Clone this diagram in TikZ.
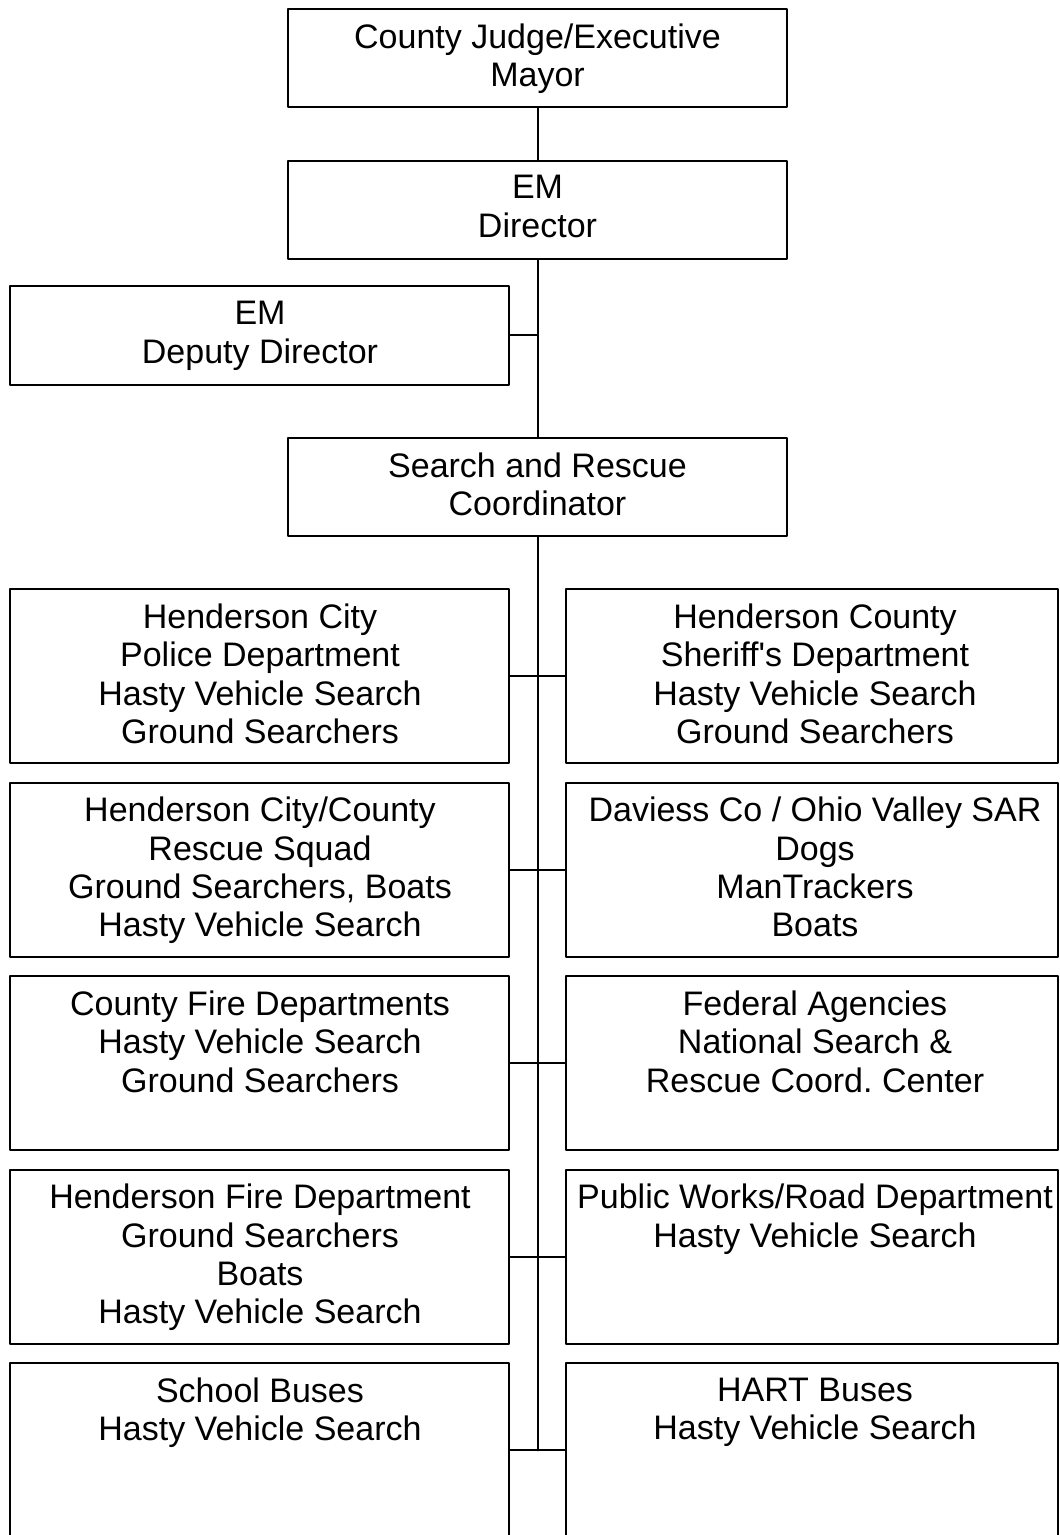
\documentclass[tikz,border=0pt]{standalone}
\usepackage{fontspec}
\setmainfont{Liberation Sans}
\usepackage{tikz}

\begin{document}
\begin{tikzpicture}[line cap=round,line join=round,x=0.5pt,y=-0.5pt,
		every path/.style={line width=1pt},
		topbox/.style={draw,inner sep=0pt,minimum width=249.5pt,minimum height=49pt},
		leftbox/.style={draw,inner sep=0pt,minimum width=249.5pt,minimum height=87pt},
		rightbox/.style={draw,inner sep=0pt,minimum width=246pt,minimum height=87pt},
		txt/.style={anchor=north,align=center,inner sep=0pt,font=\fontsize{17}{19.15}\selectfont}]
		\useasboundingbox (0,0) rectangle (1059,1535);
		
		% upper chain
		\node[topbox] (judge) at (537.5,58.3) {};
		\node[topbox] (emdir) at (537.5,210) {};
		\node[topbox] (emdep) at (259.5,335.5) {};
		\node[topbox] (sarc) at (537.5,487) {};
		
		\node[txt] (judgetxt) at (537.5,22.5) {County Judge/Executive\\Mayor};
		\node[txt] (emdirtxt) at (537.5,174.5) {EM\\Director};
		\node[txt] (emdeptxt) at (260,300.5) {EM\\Deputy Director};
		\node[txt] (sarctxt) at (537.5,451.5) {Search and Rescue\\Coordinator};
		
		% left column
		\node[leftbox] (hcpd) at (259.5,676.3) {};
		\node[leftbox] (hres) at (259.5,869.8) {};
		\node[leftbox] (cfd) at (259.5,1063.3) {};
		\node[leftbox] (hfd) at (259.5,1256.8) {};
		\node[leftbox] (sbus) at (259.5,1450.3) {};
		
		\node[txt] (hcpdtxt) at (260,602.8) {Henderson City\\Police Department\\Hasty Vehicle Search\\Ground Searchers};
		\node[txt] (hrestxt) at (260,796.3) {Henderson City/County\\Rescue Squad\\Ground Searchers, Boats\\Hasty Vehicle Search};
		\node[txt] (cfdtxt) at (260,989.8) {County Fire Departments\\Hasty Vehicle Search\\Ground Searchers};
		\node[txt] (hfdtxt) at (260,1183.3) {Henderson Fire Department\\Ground Searchers\\Boats\\Hasty Vehicle Search};
		\node[txt] (sbustxt) at (260,1376.8) {School Buses\\Hasty Vehicle Search};
		
		% right column
		\node[rightbox] (hcsd) at (811.5,676.3) {};
		\node[rightbox] (dvsar) at (811.5,869.8) {};
		\node[rightbox] (fed) at (811.5,1063.3) {};
		\node[rightbox] (pwrd) at (811.5,1256.8) {};
		\node[rightbox] (hart) at (811.5,1450.3) {};
		
		\node[txt] (hcsdtxt) at (815,602.8) {Henderson County\\Sheriff\textquotesingle s Department\\Hasty Vehicle Search\\Ground Searchers};
		\node[txt] (dvsartxt) at (815,796.3) {Daviess Co / Ohio Valley SAR\\Dogs\\ManTrackers\\Boats};
		\node[txt] (fedtxt) at (815,989.8) {Federal Agencies\\National Search \&\\Rescue Coord.\ Center};
		\node[txt] (pwrdtxt) at (815,1183.3) {Public Works/Road Department\\Hasty Vehicle Search};
		\node[txt] (harttxt) at (815,1376.8) {HART Buses\\Hasty Vehicle Search};
		
		% connectors
		\draw (judge) -- (emdir);
		\draw (emdir) -- (sarc);
		\draw (emdep.east) -- (emdep.east -| emdir.south);
		\draw (sarc.south) -- (sarc.south |- sbus.east);
		\draw (hcpd) -- (hcsd);
		\draw (hres) -- (dvsar);
		\draw (cfd) -- (fed);
		\draw (hfd) -- (pwrd);
		\draw (sbus) -- (hart);
	\end{tikzpicture}
\end{document}
